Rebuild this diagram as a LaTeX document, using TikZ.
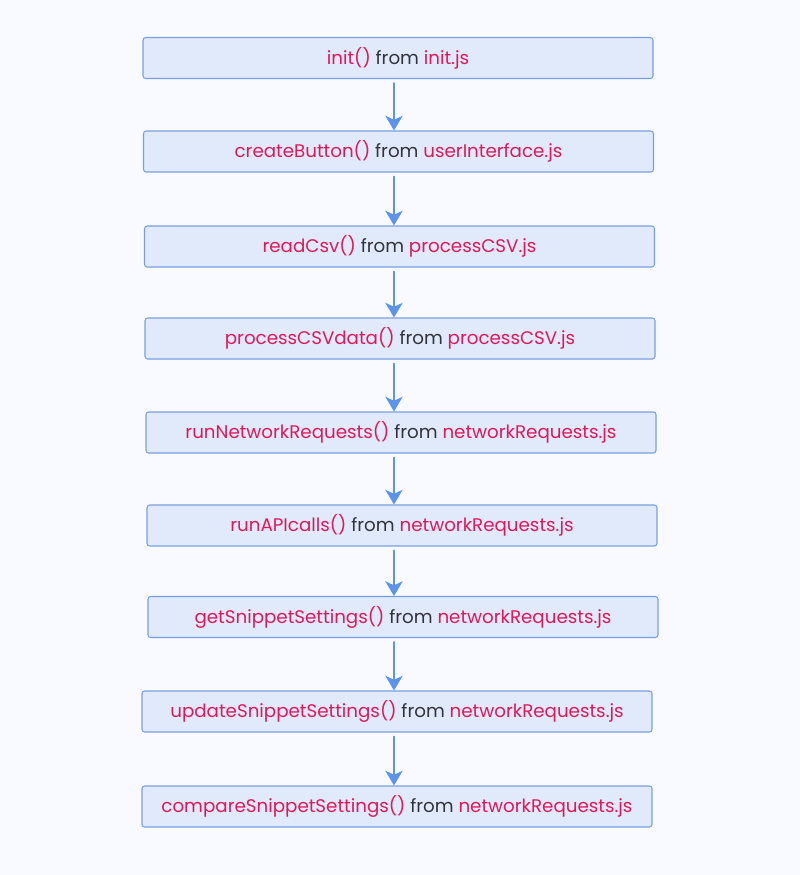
\documentclass[tikz,border=0pt]{standalone}
\usepackage{fontspec}
\setmainfont{Poppins}
\usetikzlibrary{arrows.meta, positioning}
\definecolor{bgcolor}{RGB}{248, 250, 255}
\definecolor{boxfill}{RGB}{224, 234, 251}
\definecolor{boxline}{RGB}{120, 160, 224}
\definecolor{fncolor}{RGB}{224, 24, 90}
\definecolor{fromcolor}{RGB}{51, 51, 60}
\definecolor{arrowcolor}{RGB}{92, 148, 236}

\newcommand{\fn}[1]{\textcolor{fncolor}{#1}}
\newcommand{\callbox}[2]{\fn{#1} \textcolor{fromcolor}{from} \fn{#2}}

\begin{document}
\begin{tikzpicture}[x=0.75pt, y=-0.75pt, >=Stealth, line cap=round, line join=round,
    stepbox/.style={draw=boxline, fill=boxfill, line width=0.8pt, rounded corners=2pt,
      minimum width=382.5pt, minimum height=30.75pt, inner sep=0pt, font=\fontsize{13.7}{16}\selectfont},
    flow/.style={->, arrowcolor, line width=1.5pt, shorten <=3pt,
      -{Stealth[length=11pt, width=13pt, inset=3pt]}}]

  % Background
  \fill[bgcolor] (0,0) rectangle (800,875);
  \useasboundingbox (0,0) rectangle (800,875);

  % Axis of the arrows
  \coordinate (axis) at (394,0);

  % Call chain
  \node[stepbox] (init)    at (398,58)  {\callbox{init()}{init.js}};
  \node[stepbox] (button)  at (398.5,151.5) {\callbox{createButton()}{userInterface.js}};
  \node[stepbox] (readcsv) at (399.5,246.5) {\callbox{readCsv()}{processCSV.js}};
  \node[stepbox] (process) at (400,338.5) {\callbox{processCSVdata()}{processCSV.js}};
  \node[stepbox] (network) at (401,432.5) {\callbox{runNetworkRequests()}{networkRequests.js}};
  \node[stepbox] (apicall) at (402,525.5) {\callbox{runAPIcalls()}{networkRequests.js}};
  \node[stepbox] (getsnip) at (403,617)  {\callbox{getSnippetSettings()}{networkRequests.js}};
  \node[stepbox] (updsnip) at (397,711.5) {\callbox{updateSnippetSettings()}{networkRequests.js}};
  \node[stepbox] (cmpsnip) at (397,806.5) {\callbox{compareSnippetSettings()}{networkRequests.js}};

  % Arrows
  \draw[flow] (init.south -| axis) -- (button.north -| axis);
  \draw[flow] (button.south -| axis) -- (readcsv.north -| axis);
  \draw[flow] (readcsv.south -| axis) -- (process.north -| axis);
  \draw[flow] (process.south -| axis) -- (network.north -| axis);
  \draw[flow] (network.south -| axis) -- (apicall.north -| axis);
  \draw[flow] (apicall.south -| axis) -- (getsnip.north -| axis);
  \draw[flow] (getsnip.south -| axis) -- (updsnip.north -| axis);
  \draw[flow] (updsnip.south -| axis) -- (cmpsnip.north -| axis);

\end{tikzpicture}
\end{document}
